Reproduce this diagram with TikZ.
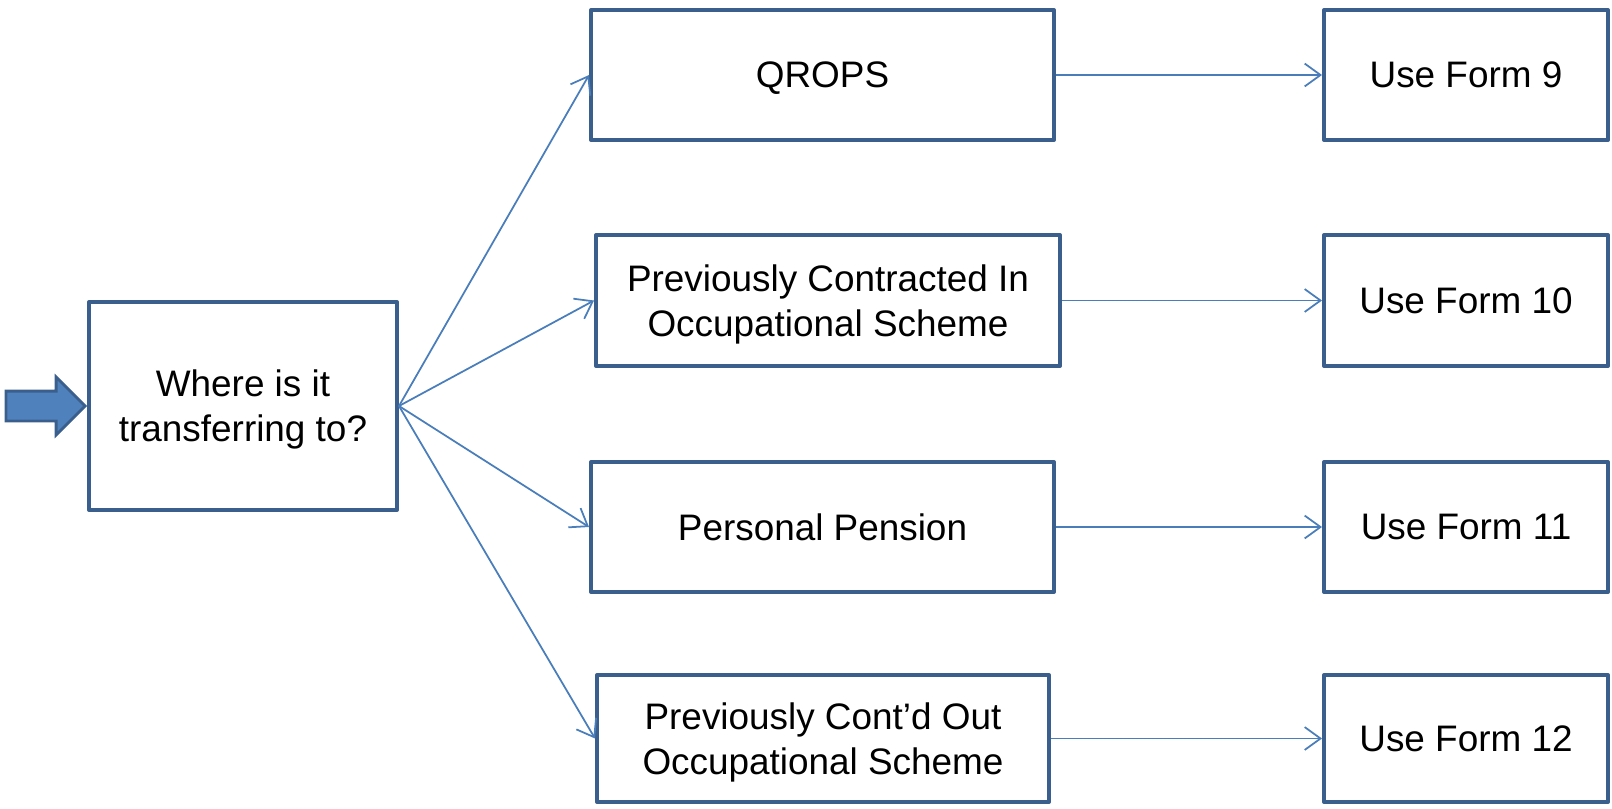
\documentclass[tikz,border=0pt]{standalone}
\usepackage{fontspec}
\setmainfont{Liberation Sans}
\usetikzlibrary{
   arrows.meta,
   shapes.arrows,
   positioning
}

\definecolor{boxblue}{HTML}{3A5F8D}
\definecolor{lineblue}{HTML}{4A7EBB}
\definecolor{fillblue}{HTML}{4F81BD}

\begin{document}
\begin{tikzpicture}[
  x=0.02cm, y=-0.02cm,
  every node/.style={font=\fontsize{21}{25.5}\selectfont},
  box/.style={draw=boxblue, line width=2.3pt, line join=round, rectangle,
    align=center, inner sep=0pt, text depth=0pt},
  formbox/.style={box, minimum width=5.68cm},
  link/.style={lineblue, line width=1pt, -{Straight Barb[length=9pt,width=13pt]}},
]
\useasboundingbox (0,0) rectangle (1612,808);

% question
\node[box, minimum width=6.16cm, minimum height=4.16cm] (where) at (243,406)
  {Where is it\\transferring to?};

% incoming arrow
\node[single arrow, draw=boxblue, fill=fillblue, line width=1.6pt,
  minimum height=1.58cm, inner xsep=0pt, inner ysep=0.27cm,
  single arrow head extend=0.28cm, anchor=tip] (inarrow) at (where.west) {};

% destinations
\node[box, minimum width=9.26cm, minimum height=2.6cm] (qrops) at (822.5,75) {QROPS};
\node[box, minimum width=9.28cm, minimum height=2.62cm] (cin) at (828,300.5)
  {Previously Contracted In\\Occupational Scheme};
\node[box, minimum width=9.26cm, minimum height=2.6cm] (pp) at (822.5,527) {Personal Pension};
\node[box, minimum width=9.04cm, minimum height=2.54cm] (cout) at (823,738.5)
  {Previously Cont’d Out\\Occupational Scheme};

% forms
\node[formbox, minimum height=2.6cm] (f9) at (1466,75) {Use Form 9};
\node[formbox, minimum height=2.62cm] (f10) at (1466,300.5) {Use Form 10};
\node[formbox, minimum height=2.6cm] (f11) at (1466,527) {Use Form 11};
\node[formbox, minimum height=2.54cm] (f12) at (1466,738.5) {Use Form 12};

% links
\foreach \dest in {qrops,cin,pp,cout}
  \draw[link] (where.east) -- (\dest.west);
\draw[link] (qrops) -- (f9);
\draw[link] (cin) -- (f10);
\draw[link] (pp) -- (f11);
\draw[link] (cout) -- (f12);

\end{tikzpicture}
\end{document}
